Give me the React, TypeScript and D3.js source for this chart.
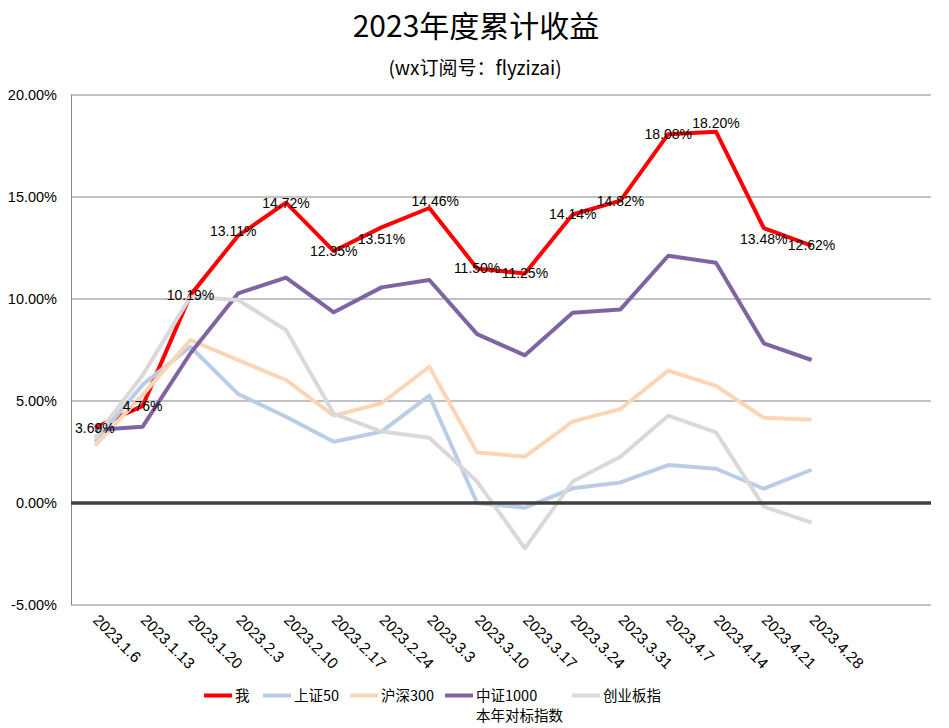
import React from "react";
import * as d3 from "d3";

const categories = [
  "2023.1.6", "2023.1.13", "2023.1.20", "2023.2.3", "2023.2.10", "2023.2.17",
  "2023.2.24", "2023.3.3", "2023.3.10", "2023.3.17", "2023.3.24", "2023.3.31",
  "2023.4.7", "2023.4.14", "2023.4.21", "2023.4.28",
];
const slotCount = 18;

const seriesNames = ["我", "上证50", "沪深300", "中证1000", "创业板指"];
const me = [3.69, 4.76, 10.19, 13.11, 14.72, 12.35, 13.51, 14.46, 11.5, 11.25, 14.14, 14.82, 18.08, 18.2, 13.48, 12.62];
const sz50 = [3.0, 5.8, 7.66, 5.34, 4.23, 3.0, 3.5, 5.26, 0.0, -0.23, 0.72, 1.01, 1.86, 1.68, 0.7, 1.63];
const hs300 = [2.81, 5.3, 7.99, 7.0, 6.03, 4.28, 4.89, 6.68, 2.48, 2.27, 3.99, 4.61, 6.49, 5.74, 4.18, 4.08];
const zz1000 = [3.58, 3.74, 7.34, 10.28, 11.05, 9.35, 10.57, 10.93, 8.28, 7.24, 9.33, 9.49, 12.12, 11.78, 7.83, 7.01];
const cyb = [3.19, 6.27, 10.11, 9.95, 8.48, 4.38, 3.5, 3.2, 1.05, -2.22, 1.05, 2.27, 4.28, 3.46, -0.18, -0.96];
const yTicks = [-5, 0, 5, 10, 15, 20];

const colors = ["#FF0000", "#B9CDE5", "#FCD5B5", "#8064A2", "#D9D9D9"];
// label nudges (layout only), in px
const labelNudge: [number, number][] = [
  [0, 0], [0, 0], [0, 0], [-5, -4], [0, 0], [0, 0], [0, 12], [6, -7],
  [0, 0], [0, 0], [0, 0], [0, 0], [0, 0], [0, -9], [0, 11], [0, 0],
];

const W = 949;
const H = 728;
const left = 71;
const right = 931;
const top = 95;
const bottom = 605;

export default function App() {
  const x = d3.scaleLinear().domain([-0.5, slotCount - 0.5]).range([left, right]);
  const y = d3.scaleLinear().domain([-5, 20]).range([bottom, top]);
  const all = [me, sz50, hs300, zz1000, cyb];
  const line = d3
    .line<number>()
    .x((_, i) => x(i))
    .y((d) => y(d));

  const numFont = "'Liberation Sans', Arial, sans-serif";
  const cjkFont = "'Noto Sans CJK SC', 'Liberation Sans', sans-serif";

  const legendX = [204, 263, 350, 445, 572];

  return (
    <svg width={W} height={H} style={{ position: "absolute", left: 0, top: 0 }}>
      <rect x={0} y={0} width={W} height={H} fill="#fff" />
      <text x={476} y={37} textAnchor="middle" fontFamily={cjkFont} fontSize={30} fill="#000">
        2023年度累计收益
      </text>
      <text x={475} y={75} textAnchor="middle" fontFamily={cjkFont} fontSize={19} fill="#000">
        (wx订阅号：flyzizai)
      </text>

      {yTicks.map((t) => (
        <g key={t}>
          {t !== 0 && (
            <line x1={left} x2={right} y1={y(t)} y2={y(t)} stroke="#868686" strokeWidth={1} />
          )}
          <text
            x={57}
            y={y(t)}
            dy="0.35em"
            textAnchor="end"
            fontFamily={numFont}
            fontSize={14.5}
            fill="#000"
          >
            {t.toFixed(2) + "%"}
          </text>
        </g>
      ))}
      <line x1={left + 0.5} x2={left + 0.5} y1={top} y2={bottom} stroke="#868686" strokeWidth={1} />

      {all.map((s, k) => (
        <path
          key={k}
          d={line(s) || ""}
          fill="none"
          stroke={colors[k]}
          strokeWidth={4}
          strokeLinejoin="round"
        />
      ))}
      <line x1={left} x2={right} y1={y(0)} y2={y(0)} stroke="#404040" strokeWidth={3.5} />

      {me.map((v, i) => (
        <text
          key={i}
          x={x(i) + labelNudge[i][0]}
          y={y(v) + labelNudge[i][1]}
          dy="0.35em"
          textAnchor="middle"
          fontFamily={numFont}
          fontSize={14}
          fill="#000"
        >
          {v.toFixed(2) + "%"}
        </text>
      ))}

      {categories.map((c, i) => (
        <text
          key={c}
          transform={`translate(${x(i) - 3},${621}) rotate(45)`}
          textAnchor="start"
          fontFamily={numFont}
          fontSize={15.5}
          fill="#000"
        >
          {c}
        </text>
      ))}

      {seriesNames.map((n, k) => (
        <g key={n}>
          <line
            x1={legendX[k]}
            x2={legendX[k] + 28}
            y1={695.5}
            y2={695.5}
            stroke={colors[k]}
            strokeWidth={4}
          />
          <text
            x={legendX[k] + 31}
            y={695.5}
            dy="0.35em"
            fontFamily={cjkFont}
            fontSize={14.5}
            fill="#000"
          >
            {n}
          </text>
          {k === 3 && (
            <text
              x={legendX[k] + 31}
              y={715.5}
              dy="0.35em"
              fontFamily={cjkFont}
              fontSize={14.5}
              fill="#000"
            >
              本年对标指数
            </text>
          )}
        </g>
      ))}
    </svg>
  );
}
